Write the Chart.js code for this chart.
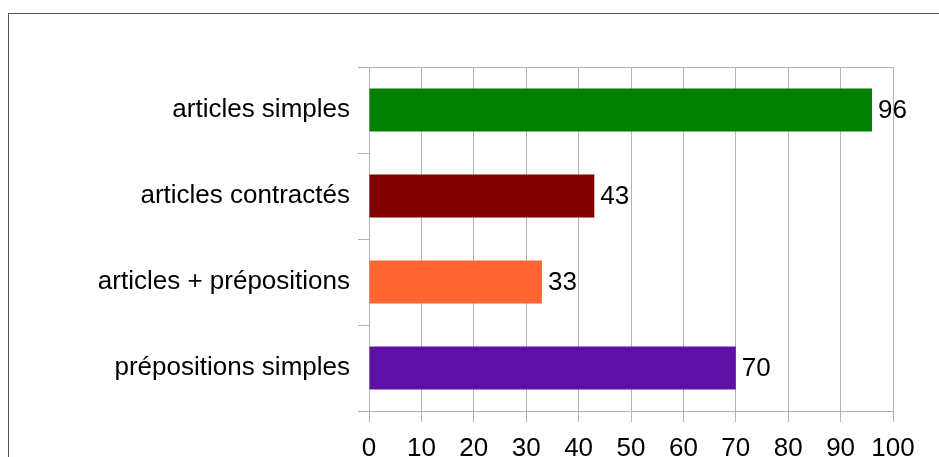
<!DOCTYPE html>
<html>
<head>
<meta charset="utf-8">
<script src="https://cdn.jsdelivr.net/npm/chart.js@4/dist/chart.umd.min.js"></script>
<style>
    html, body { margin: 0; padding: 0; background: #ffffff; overflow: hidden; }
    #wrap { position: relative; width: 939px; height: 457px; }
    #frame {
        position: absolute; left: 8px; top: 13px;
        width: 1000px; height: 500px;
        border: 1px solid #555555;
    }
    canvas { position: absolute; left: 0; top: 0; }
</style>
</head>
<body>
<div id="wrap">
    <div id="frame"></div>
    <canvas id="chart" width="939" height="457"></canvas>
</div>
<script>
// Categories and values
const categories = [
    'articles simples',
    'articles contractés',
    'articles + prépositions',
    'prépositions simples'
];
const counts = [96, 43, 33, 70];
const barColors = ['#008000', '#800000', '#ff6633', '#5e11a6'];

const gridGrey = '#b3b3b3';
const fontFamily = '"Liberation Sans", Arial, sans-serif';

// Draw the value to the right of each bar
const valueLabels = {
    id: 'valueLabels',
    afterDatasetsDraw(chart) {
        const ctx = chart.ctx;
        const meta = chart.getDatasetMeta(0);
        ctx.save();
        ctx.font = '26px ' + fontFamily;
        ctx.fillStyle = '#000000';
        ctx.textAlign = 'left';
        ctx.textBaseline = 'middle';
        meta.data.forEach((bar, i) => {
            ctx.fillText(String(counts[i]), bar.x + 6, bar.y + 1);
        });
        ctx.restore();
    }
};

new Chart(document.getElementById('chart'), {
    type: 'bar',
    data: {
        labels: categories,
        datasets: [{
            data: counts,
            backgroundColor: barColors,
            borderWidth: 0,
            barPercentage: 0.5,
            categoryPercentage: 1.0
        }]
    },
    options: {
        indexAxis: 'y',
        responsive: false,
        animation: false,
        layout: { padding: { left: 0, right: 46, top: 67, bottom: 0 } },
        plugins: {
            legend: { display: false },
            tooltip: { enabled: false }
        },
        scales: {
            x: {
                min: 0,
                max: 100,
                ticks: {
                    stepSize: 10,
                    color: '#000000',
                    padding: 11,
                    font: { family: fontFamily, size: 26 }
                },
                grid: {
                    color: gridGrey,
                    tickColor: gridGrey,
                    tickLength: 11,
                    lineWidth: 1
                },
                border: { color: gridGrey },
                afterFit(scale) { scale.height = 46; }
            },
            y: {
                ticks: {
                    color: '#000000',
                    padding: 8,
                    font: { family: fontFamily, size: 26 }
                },
                grid: {
                    // only the top and bottom lines cross the plot
                    color: ctx => (ctx.index === 0 || ctx.index === categories.length) ? gridGrey : 'rgba(0,0,0,0)',
                    tickColor: gridGrey,
                    tickLength: 11
                },
                border: { color: gridGrey },
                afterFit(scale) { scale.width = 369; }
            }
        }
    },
    plugins: [valueLabels]
});
</script>
</body>
</html>
